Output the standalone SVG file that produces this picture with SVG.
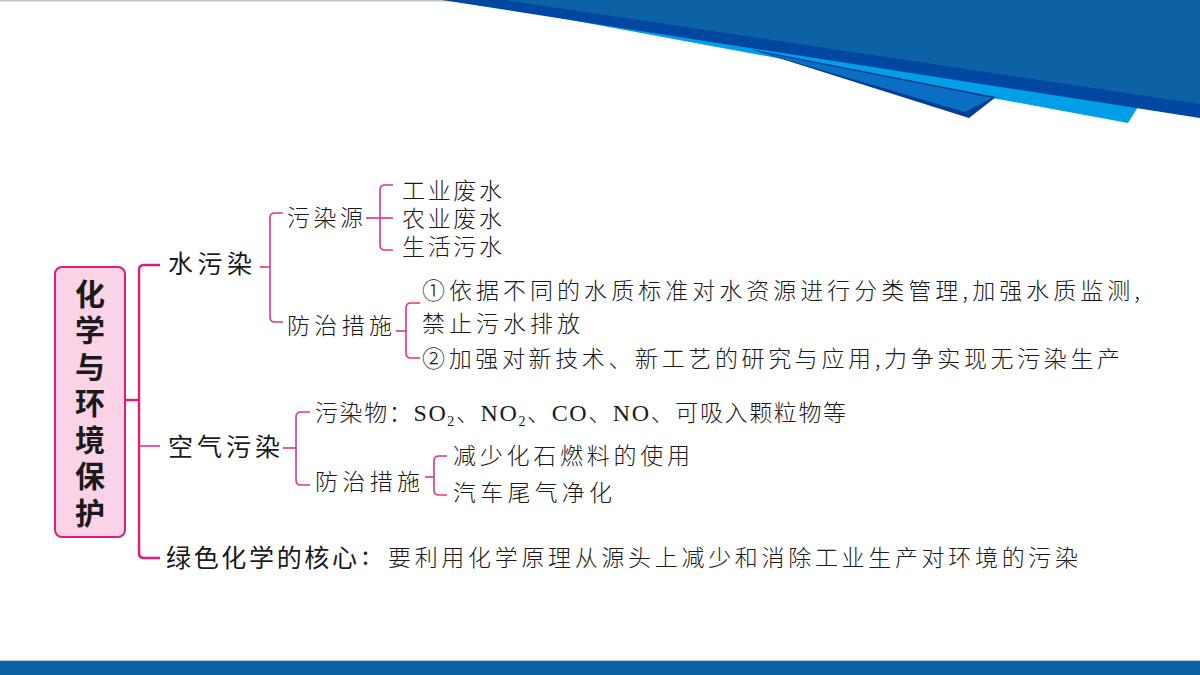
<svg xmlns="http://www.w3.org/2000/svg" width="1200" height="675" viewBox="0 0 1200 675">
<style>
.l1{font-family:"Noto Sans CJK SC","Noto Sans",sans-serif;font-size:25px;fill:#1a1a1a}
.t{font-family:"Noto Sans CJK SC","Noto Sans",sans-serif;font-size:23px;font-weight:300;fill:#1a1a1a}
.lat{font-family:"Liberation Serif",serif}
.root{font-family:"Noto Sans CJK SC","Noto Sans",sans-serif;font-size:30px;font-weight:bold;fill:#1a1a1a}
.c{fill:none;stroke:#D6388A;stroke-width:1.6}
.trunk{fill:none;stroke:#DD1A80;stroke-width:2.4}
</style>
<rect width="1200" height="675" fill="#ffffff"/>
<g id="banner">
<rect x="0" y="0" width="460" height="1.5" fill="#C4C4C4"/>
<polygon points="560,18 1128,123 1138,107 1200,113 1200,0 560,0" fill="#009FE8"/>
<polygon points="750,49 969,118 996,97" fill="#003E96"/>
<polygon points="760,52 965,112 992,98" fill="#0A6FC2"/>
<polygon points="442,0 1200,0 1200,118" fill="#0047A1"/>
<polygon points="505,0 1200,0 1200,104" fill="#0D62A5"/>
</g>
<g id="footer">
<rect x="0" y="660" width="1200" height="1" fill="#A9C6DF"/>
<rect x="0" y="661" width="1200" height="14" fill="#0B63A5"/>
</g>
<g id="connectors">
<path class="trunk" d="M125,400 H139"/>
<path class="trunk" d="M160,265 H144 Q139,265 139,270 V553 Q139,558 144,558 H160"/>
<path class="c" d="M139,446 H160"/>
<path class="c" d="M260,267 H270"/>
<path class="c" d="M283,213 H275 Q270,213 270,218 V317 Q270,322 275,322 H283"/>
<path class="c" d="M366,218 H393"/>
<path class="c" d="M393,185 H385 Q380,185 380,190 V245 Q380,250 385,250 H393"/>
<path class="c" d="M396,331 H406"/>
<path class="c" d="M420,303 H411 Q406,303 406,308 V353 Q406,358 411,358 H420"/>
<path class="c" d="M283,448 H296"/>
<path class="c" d="M310,412 H301 Q296,412 296,417 V480 Q296,485 301,485 H310"/>
<path class="c" d="M425,477 H434"/>
<path class="c" d="M447,456 H439 Q434,456 434,461 V490 Q434,495 439,495 H447"/>
</g>
<g id="root">
<rect x="55" y="267" width="70" height="270" rx="7" fill="#FAD3E6" stroke="#D9207F" stroke-width="2"/>
<text class="root" text-anchor="middle" x="90" y="304.5">化</text>
<text class="root" text-anchor="middle" x="90" y="341">学</text>
<text class="root" text-anchor="middle" x="90" y="377.5">与</text>
<text class="root" text-anchor="middle" x="90" y="414">环</text>
<text class="root" text-anchor="middle" x="90" y="450.5">境</text>
<text class="root" text-anchor="middle" x="90" y="487">保</text>
<text class="root" text-anchor="middle" x="90" y="523.5">护</text>
</g>
<g id="water">
<text class="l1" x="168" y="272.5" textLength="84" lengthAdjust="spacing">水污染</text>
</g>
<g id="water-source">
<text class="t" x="287" y="225.5" textLength="76" lengthAdjust="spacing">污染源</text>
</g>
<g id="water-source-items">
<text class="t" x="402" y="198.5" textLength="100" lengthAdjust="spacing">工业废水</text>
<text class="t" x="402" y="226.5" textLength="100" lengthAdjust="spacing">农业废水</text>
<text class="t" x="402" y="254.5" textLength="100" lengthAdjust="spacing">生活污水</text>
</g>
<g id="water-measures">
<text class="t" x="287" y="333.5" textLength="105" lengthAdjust="spacing">防治措施</text>
</g>
<g id="water-measures-items">
<text class="t" x="422" y="298.5" textLength="718" lengthAdjust="spacing">①依据不同的水质标准对水资源进行分类管理,加强水质监测,</text>
<text class="t" x="422" y="331.5" textLength="158" lengthAdjust="spacing">禁止污水排放</text>
<text class="t" x="422" y="366.5" textLength="698" lengthAdjust="spacing">②加强对新技术、新工艺的研究与应用,力争实现无污染生产</text>
</g>
<g id="air">
<text class="l1" x="168" y="455.5" textLength="112" lengthAdjust="spacing">空气污染</text>
</g>
<g id="air-pollutants">
<text class="t" x="315" y="421" textLength="531" lengthAdjust="spacing">污染物：<tspan class="lat" font-size="24">SO</tspan><tspan class="lat" font-size="14" dy="5">2</tspan><tspan dy="-5">、</tspan><tspan class="lat" font-size="24">NO</tspan><tspan class="lat" font-size="14" dy="5">2</tspan><tspan dy="-5">、</tspan><tspan class="lat" font-size="24">CO</tspan>、<tspan class="lat" font-size="24">NO</tspan>、可吸入颗粒物等</text>
</g>
<g id="air-measures">
<text class="t" x="315" y="490" textLength="105" lengthAdjust="spacing">防治措施</text>
</g>
<g id="air-measures-items">
<text class="t" x="453" y="463.5" textLength="237" lengthAdjust="spacing">减少化石燃料的使用</text>
<text class="t" x="453" y="500.5" textLength="159" lengthAdjust="spacing">汽车尾气净化</text>
</g>
<g id="green">
<text class="l1" x="166" y="566.5" textLength="191" lengthAdjust="spacing">绿色化学的核心</text>
<text class="l1" x="362" y="565">:</text>
<text class="t" x="388" y="565.5" textLength="690" lengthAdjust="spacing">要利用化学原理从源头上减少和消除工业生产对环境的污染</text>
</g>
</svg>
